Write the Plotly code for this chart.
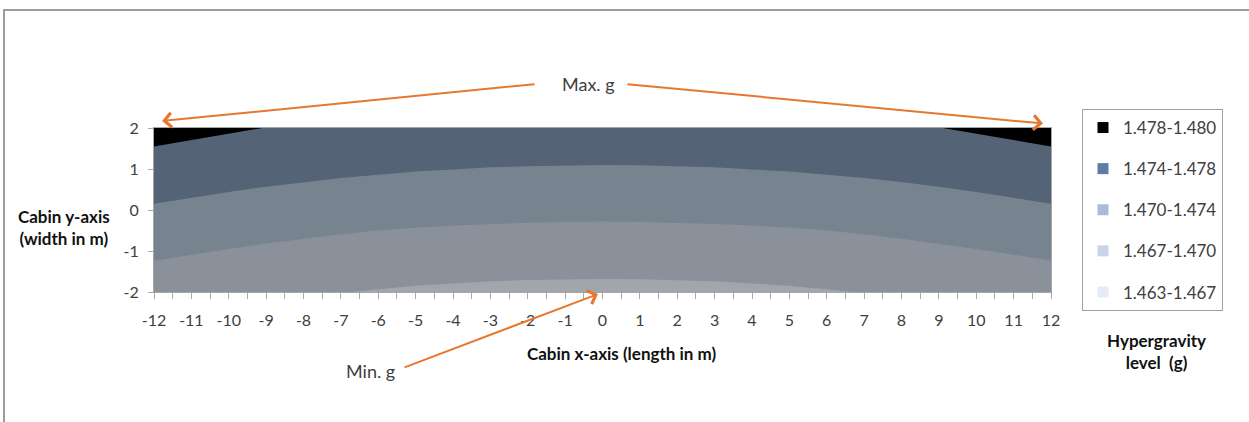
import plotly.graph_objects as go

# ---------------- data ----------------
x_cols = [-12, -11, -10, -9, -8, -7, -6, -5, -4, -3, -2, -1, 0,
          1, 2, 3, 4, 5, 6, 7, 8, 9, 10, 11, 12]
# y position of the 1.474 g contour (dark / mid boundary)
g1474_y = [0.15, 0.30, 0.44, 0.57, 0.68, 0.78, 0.86, 0.94, 0.99, 1.04, 1.07, 1.09, 1.10,
           1.09, 1.07, 1.04, 0.99, 0.94, 0.86, 0.78, 0.68, 0.57, 0.44, 0.30, 0.15]
# y position of the 1.470 g contour (mid / light boundary)
g1470_y = [-1.24, -1.09, -0.95, -0.82, -0.70, -0.59, -0.50, -0.43, -0.38, -0.34, -0.31, -0.29, -0.28,
           -0.29, -0.31, -0.34, -0.38, -0.43, -0.50, -0.59, -0.70, -0.82, -0.95, -1.09, -1.24]
# 1.467 g contour (light / lightest boundary)
g1467_x = [-6.7, -6, -5, -4, -3, -2, -1, 0, 1, 2, 3, 4, 5, 6, 6.7]
g1467_y = [-2.0, -1.93, -1.85, -1.79, -1.74, -1.71, -1.69, -1.68, -1.69, -1.71, -1.74, -1.79, -1.85, -1.93, -2.0]
# 1.478 g contours (black corners)
g1478_left_x = [-12, -11, -10, -9.1]
g1478_left_y = [1.55, 1.71, 1.86, 2.0]
g1478_right_x = [9.1, 10, 11, 12]
g1478_right_y = [2.0, 1.86, 1.71, 1.55]

level_labels = ["1.478-1.480", "1.474-1.478", "1.470-1.474", "1.467-1.470", "1.463-1.467"]
legend_colors = ["#000000", "#5d7ca6", "#a8bcd8", "#c9d3e8", "#e5ebf4"]
band_colors = ["#000000", "#556377", "#788390", "#8a919a", "#a1a6ac"]

x_ticks = list(range(-12, 13))
y_ticks = [-2, -1, 0, 1, 2]

# ---------------- layout geometry ----------------
W, H = 1249, 422
L, R, T, B = 154, 198, 128, 130
PW, PH = W - L - R, H - T - B


def px(xp):
    return (xp - L) / PW


def py(yp):
    return (H - B - yp) / PH


FONT = "Lato"
TXT = "#404040"

fig = go.Figure()


def poly(xs, ys, color):
    fig.add_trace(go.Scatter(x=xs, y=ys, mode="lines", fill="toself",
                             fillcolor=color, line=dict(width=0, color=color),
                             hoverinfo="skip", showlegend=False))


# full area: 1.474-1.478 band
poly([x_ticks[0], x_ticks[-1], x_ticks[-1], x_ticks[0]],
     [y_ticks[0], y_ticks[0], y_ticks[-1], y_ticks[-1]], band_colors[1])
# below 1.474
poly(x_cols + [x_cols[-1], x_cols[0]], g1474_y + [y_ticks[0], y_ticks[0]], band_colors[2])
# below 1.470
poly(x_cols + [x_cols[-1], x_cols[0]], g1470_y + [y_ticks[0], y_ticks[0]], band_colors[3])
# below 1.467
poly(g1467_x, g1467_y, band_colors[4])
# above 1.478 corners
poly(g1478_left_x + [x_cols[0]], g1478_left_y + [y_ticks[-1]], band_colors[0])
poly(g1478_right_x + [x_cols[-1]], g1478_right_y + [y_ticks[-1]], band_colors[0])

# legend entries
for i, (lab, col) in enumerate(zip(level_labels, legend_colors)):
    fig.add_trace(go.Scatter(x=[None], y=[None], mode="markers", name=lab,
                             legendgroup="g%d" % i,
                             marker=dict(symbol="square", size=11, color=col)))

ORANGE = "#E8772E"


def arrow(hx, hy, tx, ty):
    # head at pixel (hx, hy), tail at pixel (tx, ty)
    return dict(text="", x=px(hx), y=py(hy), xref="paper", yref="paper",
                ax=tx - hx, ay=ty - hy,
                showarrow=True, arrowhead=4, arrowsize=1.4,
                arrowwidth=2, arrowcolor=ORANGE, standoff=0, startstandoff=0)


def label(text, xp, yp, size, color):
    return dict(text=text, x=px(xp), y=py(yp), xref="paper", yref="paper",
                xanchor="center", yanchor="middle", showarrow=False, align="center",
                font=dict(size=size, color=color, family=FONT))


annotations = [
    label("Max. g", 588, 84, 18, TXT),
    label("Min. g", 370, 371, 18, TXT),
    arrow(162, 121, 536, 84),
    arrow(1043, 123.5, 626, 84),
    arrow(598, 294, 403, 368),
    label("<b>Cabin y-axis</b><br><b>(width in m)</b>", 64, 227, 17, "#111111"),
    label("<b>Cabin x-axis (length in m)</b>", 621, 353, 17, "#111111"),
    label("<b>Hypergravity</b><br><b>level  (g)</b>", 1156, 351, 17, "#111111"),
]

BORDER = "#9c9c9c"
shapes = [
    dict(type="line", xref="paper", yref="paper", x0=px(4), x1=px(4),
         y0=py(10), y1=py(440), line=dict(color=BORDER, width=2)),
    dict(type="line", xref="paper", yref="paper", x0=px(3), x1=px(1260),
         y0=py(10), y1=py(10), line=dict(color=BORDER, width=2)),
]

AX = "#a6a6a6"
fig.update_layout(
    width=W, height=H,
    margin=dict(l=L, r=R, t=T, b=B, pad=0),
    paper_bgcolor="white", plot_bgcolor="white",
    font=dict(family=FONT, size=15, color=TXT),
    showlegend=True,
    legend=dict(x=px(1082), y=py(109), xanchor="left", yanchor="top",
                bordercolor="#a0a0a0", borderwidth=1, bgcolor="white",
                font=dict(size=17, color=TXT, family=FONT),
                tracegroupgap=16, traceorder="grouped"),
    annotations=annotations,
    shapes=shapes,
    xaxis=dict(range=[x_ticks[0], x_ticks[-1]], tickvals=x_ticks,
               ticktext=[str(v) for v in x_ticks],
               showgrid=False, zeroline=False, showline=True, mirror=True,
               linecolor=AX, linewidth=1, ticks="outside", ticklen=6,
               tickcolor=AX, ticklabelstandoff=8,
               minor=dict(dtick=0.5, tick0=0, ticks="outside", ticklen=6, tickcolor=AX),
               tickfont=dict(size=16, color=TXT, family=FONT)),
    yaxis=dict(range=[y_ticks[0], y_ticks[-1]], tickvals=y_ticks,
               ticktext=[str(v) for v in y_ticks],
               showgrid=False, zeroline=False, showline=True, mirror=True,
               linecolor=AX, linewidth=1, ticks="outside", ticklen=5,
               tickcolor=AX, ticklabelstandoff=6,
               tickfont=dict(size=16, color=TXT, family=FONT)),
)

fig.write_html("out.html", config={"displayModeBar": False},
               post_script="document.body.style.margin='0';")
